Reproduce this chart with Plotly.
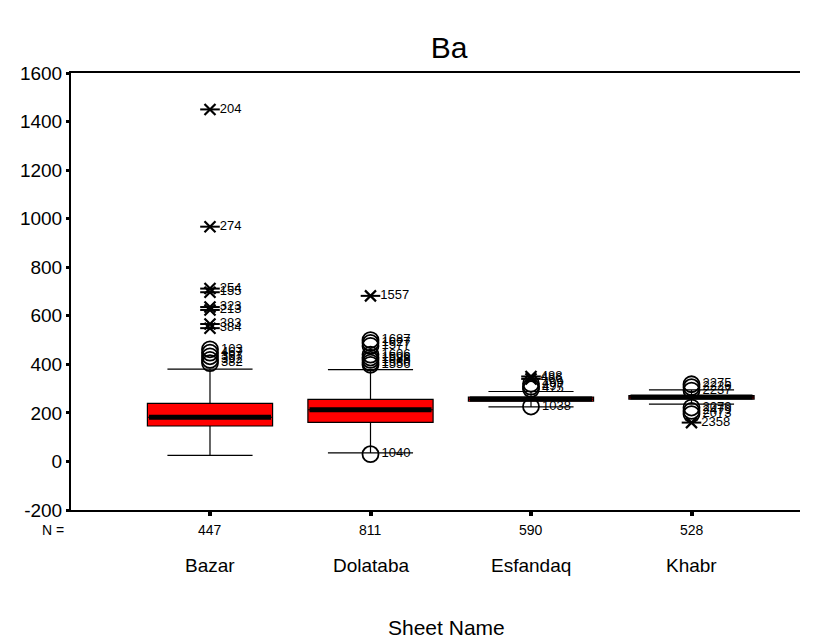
import plotly.graph_objects as go

# ---- data ----
categories = ["Bazar", "Dolataba", "Esfandaq", "Khabr"]
n_counts = [447, 811, 590, 528]
q1 = [146, 161, 248, 257]
median = [182, 213, 257, 265]
q3 = [239, 256, 265, 271]
lower_whisker = [25, 35, 225, 236]
upper_whisker = [380, 378, 288, 295]
y_ticks = [-200, 0, 200, 400, 600, 800, 1000, 1200, 1400, 1600]
y_tick_labels = ["-200", "0", "200", "400", "600", "800", "1000", "1200", "1400", "1600"]

# extreme values (stars): (category index, value, case label)
extreme_cat = [0, 0, 0, 0, 0, 0, 0, 0, 1, 2, 2, 3]
extreme_val = [1450, 967, 712, 697, 636, 624, 566, 549, 682, 350, 340, 160]
extreme_lbl = ["204", "274", "254", "155", "323", "213", "383", "384", "1557", "488", "486", "2358"]

# outliers (circles)
outlier_cat = [0, 0, 0, 0, 0,
               1, 1, 1, 1, 1, 1, 1, 1, 1,
               2, 2, 2, 2,
               3, 3, 3, 3, 3, 3]
outlier_val = [462, 448, 433, 418, 405,
               500, 488, 476, 440, 428, 418, 407, 398, 30,
               320, 308, 298, 226,
               318, 306, 292, 222, 208, 195]
outlier_lbl = ["103", "467", "397", "392", "382",
               "1687", "1627", "1577", "1606", "1596", "1588", "1580", "1556", "1040",
               "499", "497", "475", "1038",
               "2275", "2226", "2237", "2079", "2479", "2073"]

FONT = "Liberation Sans, Arial, sans-serif"
NARROW = "Liberation Sans Narrow, " + FONT
BOX_W = 0.78
RED = "#ff0000"

fig = go.Figure()

for i, c in enumerate(categories):
    fig.add_trace(go.Box(
        x=[i], q1=[q1[i]], median=[median[i]], q3=[q3[i]],
        lowerfence=[lower_whisker[i]], upperfence=[upper_whisker[i]],
        width=BOX_W, whiskerwidth=0.68, fillcolor=RED,
        line=dict(color="#000000", width=1.2), boxpoints=False,
        hoverinfo="skip", showlegend=False,
    ))
    # thick median bar
    fig.add_trace(go.Scatter(
        x=[i - BOX_W / 2 + 0.01, i + BOX_W / 2 - 0.01], y=[median[i], median[i]],
        mode="lines", line=dict(color="#000000", width=5),
        hoverinfo="skip", showlegend=False,
    ))

# outliers (circles)
fig.add_trace(go.Scatter(
    x=outlier_cat, y=outlier_val, mode="markers+text",
    marker=dict(symbol="circle-open", size=16, color="#000000", line=dict(width=1.8)),
    text=outlier_lbl, textposition="middle right",
    textfont=dict(family=FONT, size=13, color="#000000"),
    hoverinfo="skip", showlegend=False, cliponaxis=False,
))
# extremes (stars = x + horizontal bar)
fig.add_trace(go.Scatter(
    x=extreme_cat, y=extreme_val, mode="markers",
    marker=dict(symbol="x-thin-open", size=11, color="#000000", line=dict(width=2.2, color="#000000")),
    hoverinfo="skip", showlegend=False,
))
fig.add_trace(go.Scatter(
    x=extreme_cat, y=extreme_val, mode="markers+text",
    marker=dict(symbol="line-ew-open", size=14, color="#000000", line=dict(width=2, color="#000000")),
    text=extreme_lbl, textposition="middle right",
    textfont=dict(family=FONT, size=13, color="#000000"),
    hoverinfo="skip", showlegend=False, cliponaxis=False,
))

annotations = []
for i, c in enumerate(categories):
    annotations.append(dict(x=i, y=0, xref="x", yref="paper", yshift=-20, yanchor="middle",
                            text=str(n_counts[i]), showarrow=False,
                            font=dict(family=NARROW, size=14, color="#000000")))
    annotations.append(dict(x=i, y=0, xref="x", yref="paper", yshift=-55, yanchor="middle",
                            text=c, showarrow=False,
                            font=dict(family=FONT, size=19, color="#000000")))
annotations.append(dict(x=0, y=0, xref="paper", yref="paper", xshift=-5, yshift=-20,
                        xanchor="right", yanchor="middle",
                        text="N =", showarrow=False,
                        font=dict(family=NARROW, size=14, color="#000000")))
annotations.append(dict(x=(447 - 71) / (800 - 71), y=(510 - 627) / (510 - 73),
                        xref="paper", yref="paper", xanchor="center", yanchor="middle",
                        text="Sheet Name", showarrow=False,
                        font=dict(family=FONT, size=21, color="#000000")))

fig.update_layout(
    width=821, height=644,
    margin=dict(l=71, r=21, t=73, b=134),
    paper_bgcolor="white", plot_bgcolor="white",
    title=dict(text="Ba", x=449 / 821, xanchor="center", y=1 - 47 / 644, yanchor="middle",
               font=dict(family=FONT, size=30, color="#000000")),
    annotations=annotations,
    font=dict(family=FONT, color="#000000"),
)
fig.update_xaxes(
    range=[-0.866, 3.676], tickvals=[0, 1, 2, 3], showticklabels=False,
    ticks="outside", ticklen=4, tickwidth=4, tickcolor="#000000",
    showline=True, linecolor="#000000", linewidth=2, mirror=True,
    showgrid=False, zeroline=False,
)
fig.update_yaxes(
    range=[-200, 1600], tickvals=y_ticks, ticktext=y_tick_labels,
    ticks="outside", ticklen=3, tickwidth=3, tickcolor="#000000",
    tickfont=dict(family=FONT, size=19, color="#000000"),
    showline=True, linecolor="#000000", linewidth=2,
    showgrid=False, zeroline=False,
)

fig.write_html("out.html")
